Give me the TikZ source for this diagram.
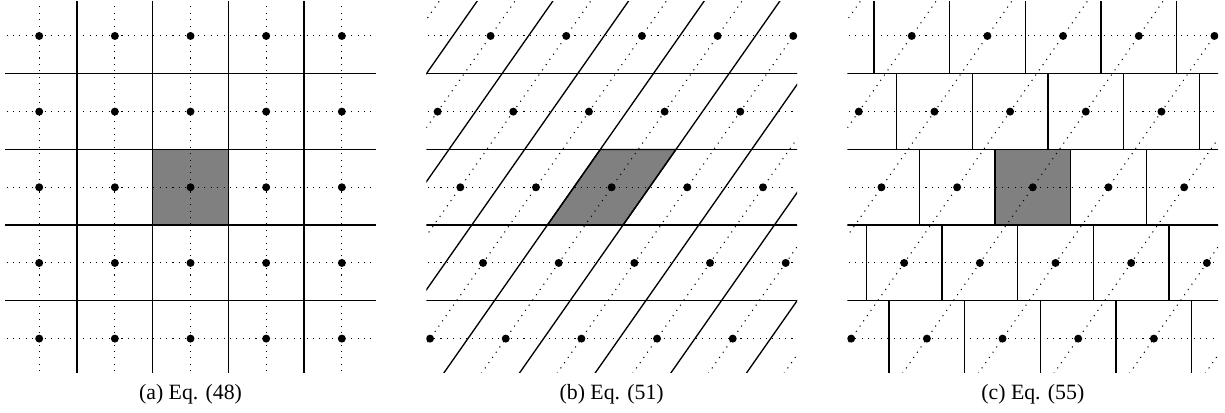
\documentclass[tikz,border=0pt]{standalone}
\usepackage{fontspec}
\setmainfont{Liberation Serif}
\tikzset{
  cellline/.style={line width=0.5pt},
  guide/.style={dotted, line width=0.4pt},
  site/.style={fill=black},
  shaded/.style={fill=black!50, draw=black, line width=0.5pt},
  caption/.style={font=\fontsize{8.2}{10}\selectfont, anchor=base},
}
\begin{document}
\begin{tikzpicture}
  \useasboundingbox (-2.518,-2.983) rectangle (13.672,2.475);
  % (a) square cells
  \begin{scope}
    \clip (-2.45,-2.45) rectangle (2.45,2.45);
    \draw[shaded] (-0.5,-0.5) rectangle (0.5,0.5);
    \foreach \k in {-2,...,2} {
      \draw[guide] (-2.6,\k) -- (2.6,\k);
      \draw[guide] (\k,-2.6) -- (\k,2.6);
    }
    \foreach \k in {-1.5,-0.5,0.5,1.5} {
      \draw[cellline] (-2.6,\k) -- (2.6,\k);
      \draw[cellline] (\k,-2.6) -- (\k,2.6);
    }
    \foreach \i in {-2,...,2}
      \foreach \j in {-2,...,2}
        \fill[site] (\i,\j) circle (1.5pt);
  \end{scope}
  \node[caption] (capa) at (0,-2.80) {(a) Eq. (48)};

  % (b) sheared cells
  \begin{scope}[shift={(5.566,0)}]
    \clip (-2.45,-2.45) rectangle (2.45,2.45);
    \draw[shaded] (-0.85,-0.5) -- (0.15,-0.5) -- (0.85,0.5) -- (-0.15,0.5) -- cycle;
    \foreach \j in {-2,...,2}
      \draw[guide] (-2.6,\j) -- (2.6,\j);
    \foreach \i in {-5,...,5}
      \draw[guide] (\i-1.82,-2.6) -- (\i+1.82,2.6);
    \foreach \k in {-1.5,-0.5,0.5,1.5}
      \draw[cellline] (-2.6,\k) -- (2.6,\k);
    \foreach \i in {-5,...,5}
      \draw[cellline] (\i+0.5-1.82,-2.6) -- (\i+0.5+1.82,2.6);
    \foreach \j in {-2,...,2}
      \foreach \i in {-5,...,5}
        \fill[site] ({\i+0.7*\j},\j) circle (1.5pt);
  \end{scope}
  \node[caption] (capb) at (5.566,-2.80) {(b) Eq. (51)};

  % (c) shifted square cells
  \begin{scope}[shift={(11.132,0)}]
    \clip (-2.45,-2.45) rectangle (2.45,2.45);
    \draw[shaded] (-0.5,-0.5) rectangle (0.5,0.5);
    \foreach \j in {-2,...,2}
      \draw[guide] (-2.6,\j) -- (2.6,\j);
    \foreach \i in {-5,...,5}
      \draw[guide] (\i-1.82,-2.6) -- (\i+1.82,2.6);
    \foreach \k in {-1.5,-0.5,0.5,1.5}
      \draw[cellline] (-2.6,\k) -- (2.6,\k);
    \foreach \j in {-2,...,2}
      \foreach \i in {-5,...,4}
        \draw[cellline] ({\i+0.5+0.7*\j},\j-0.5) -- ({\i+0.5+0.7*\j},\j+0.5);
    \foreach \j in {-2,...,2}
      \foreach \i in {-5,...,5}
        \fill[site] ({\i+0.7*\j},\j) circle (1.5pt);
  \end{scope}
  \node[caption] (capc) at (11.132,-2.80) {(c) Eq. (55)};
\end{tikzpicture}
\end{document}
